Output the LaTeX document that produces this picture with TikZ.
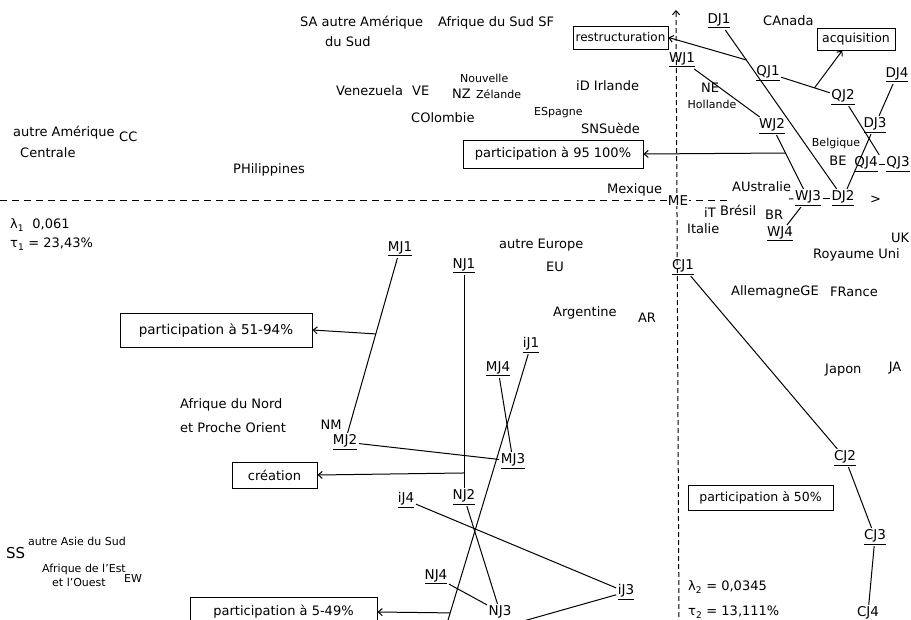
\documentclass[tikz,border=0pt]{standalone}
\usepackage{fontspec}
\setmainfont{DejaVu Sans}
\usetikzlibrary{arrows.meta,calc}
\begin{document}
\begin{tikzpicture}[x=1pt,y=-1pt,
  txt/.style={inner sep=0pt,anchor=west,font=\fontsize{13}{14}\selectfont},
  sm/.style={inner sep=0pt,anchor=west,font=\fontsize{11}{12}\selectfont},
  lab/.style={inner sep=1.5pt,font=\fontsize{13.5}{14}\selectfont},
  box/.style={draw,line width=1pt,inner sep=2pt,font=\fontsize{12.5}{14}\selectfont},
  link/.style={line width=1pt},
  arr/.style={line width=1pt,-{Straight Barb[length=4pt,width=7pt]}},
  axis/.style={line width=1pt,dash pattern=on 7pt off 5pt}
]
\clip (0,0) rectangle (911,619);
% axes
\coordinate (vb) at (679,625);
\coordinate (vt) at (676,10);
\coordinate (hl) at (0,200);
\coordinate (hr) at (727,200);
\draw[line width=1pt,dash pattern=on 5pt off 3pt,-{Straight Barb[length=4pt,width=7pt]}] (vb) -- (vt);
\draw[axis] (hl) -- (hr);
\node[lab,fill=white,inner sep=0.5pt] (ME) at (678,201) {ME};
\node[txt] (gt) at (870,200) {>};

% top texts
\node[txt] (sa) at (300,23) {SA autre Amérique};
\node[txt] (sa2) at (325,42) {du Sud};
\node[txt] (sf) at (438,23) {Afrique du Sud SF};
\node[txt] (ve) at (336,91) {Venezuela};
\node[txt] (ve2) at (412,91) {VE};
\node[sm] (nz1) at (460,78) {Nouvelle};
\node[txt] (nz) at (452,94) {NZ};
\node[sm] (nz2) at (476,94) {Zélande};
\node[txt] (id) at (576,86) {iD Irlande};
\node[txt] (co) at (411,118) {COlombie};
\node[sm] (es) at (534,113) {ESpagne};
\node[txt] (sn) at (581,128) {SNSuède};
\node[txt,anchor=center] (ne) at (710,88) {NE};
\node[sm,anchor=center] (ho) at (712,104) {Hollande};
\node[txt] (ca) at (763,21) {CAnada};
\node[sm,anchor=center] (be1) at (836,143) {Belgique};
\node[txt,anchor=center] (be2) at (838,161) {BE};
\node[txt] (cc1) at (13,133) {autre Amérique};
\node[txt] (cc) at (119,137) {CC};
\node[txt] (cc2) at (20,153) {Centrale};
\node[txt] (ph) at (233,170) {PHilippines};
\node[txt] (mx) at (607,190) {Mexique};
\node[txt] (au) at (732,187) {AUstralie};
\node[txt] (it) at (704,213) {iT};
\node[txt] (br) at (720,210) {Brésil};
\node[txt] (br2) at (765,215) {BR};
\node[txt] (ita) at (687,229) {Italie};
\node[txt] (uk) at (891,238) {UK};
\node[txt] (ru) at (813,255) {Royaume Uni};
\node[txt] (ge) at (731,292) {AllemagneGE};
\node[txt] (fr) at (830,292) {FRance};
\node[txt] (l1) at (10,225) {λ\textsubscript{1}\ \ 0,061};
\node[txt] (t1) at (10,244) {τ\textsubscript{1} = 23,43\%};
\node[txt] (eu1) at (499,245) {autre Europe};
\node[txt,anchor=center] (eu) at (555,267) {EU};
\node[txt] (ar) at (553,313) {Argentine};
\node[txt,anchor=center] (ar2) at (647,318) {AR};
\node[txt] (ja) at (825,370) {Japon};
\node[txt,anchor=center] (ja2) at (895,368) {JA};
\node[txt] (nm1) at (180,405) {Afrique du Nord};
\node[txt] (nm2) at (180,428) {et Proche Orient};
\node[txt,anchor=center] (nm) at (331,425) {NM};
\node[txt] (ss) at (6,553) {\fontsize{15}{16}\selectfont SS};
\node[sm] (ss2) at (28,541) {autre Asie du Sud};
\node[sm] (ew1) at (42,569) {Afrique de l'Est};
\node[sm] (ew2) at (52,582) {et l'Ouest};
\node[sm] (ew) at (124,578) {EW};
\node[txt] (l2) at (688,587) {λ\textsubscript{2} = 0,0345};
\node[txt] (t2) at (688,612) {τ\textsubscript{2} = 13,111\%};

% boxes
\node[box,minimum width=95pt,minimum height=23pt,font=\fontsize{12}{13}\selectfont] (restr) at (620.5,37.5) {restructuration};
\node[box,minimum width=78pt,minimum height=22pt] (acq) at (856,39) {acquisition};
\node[box,minimum width=180pt,minimum height=28pt,font=\fontsize{13}{14}\selectfont] (p95) at (553,154) {participation à 95 100\%};
\node[box,minimum width=192pt,minimum height=34pt,font=\fontsize{13.5}{14}\selectfont] (p51) at (216,330) {participation à 51-94\%};
\node[box,minimum width=85pt,minimum height=26pt,font=\fontsize{13}{14}\selectfont] (creat) at (274.5,475) {création};
\node[box,minimum width=145pt,minimum height=25pt] (p50) at (760.5,497.5) {participation à 50\%};
\node[box,minimum width=187pt,minimum height=30pt,font=\fontsize{13}{14}\selectfont] (p5) at (283.5,612) {participation à 5-49\%};

% labelled points
\node[lab] (DJ1) at (719,21) {\underline{DJ1}};
\node[lab] (QJ1) at (768,73) {\underline{QJ1}};
\node[lab] (QJ2) at (843,97) {\underline{QJ2}};
\node[lab] (DJ4) at (897,75) {\underline{DJ4}};
\node[lab] (DJ3) at (875,125) {\underline{DJ3}};
\node[lab] (QJ4) at (866,164) {\underline{QJ4}};
\node[lab] (QJ3) at (898,164) {\underline{QJ3}};
\node[lab] (WJ1) at (682,60) {\underline{WJ1}};
\node[lab] (WJ2) at (772,126) {\underline{WJ2}};
\node[lab] (WJ3) at (808,198) {\underline{WJ3}};
\node[lab] (DJ2) at (843,198) {\underline{DJ2}};
\node[lab] (WJ4) at (780,234) {\underline{WJ4}};
\node[lab] (CJ1) at (683,267) {\underline{CJ1}};
\node[lab] (CJ2) at (845,458) {\underline{CJ2}};
\node[lab] (CJ3) at (875,537) {\underline{CJ3}};
\node[lab] (CJ4) at (868,613) {CJ4};
\node[lab] (MJ1) at (400,249) {\underline{MJ1}};
\node[lab] (NJ1) at (464,266) {\underline{NJ1}};
\node[lab] (MJ2) at (345,442) {\underline{MJ2}};
\node[lab] (MJ3) at (513,461) {\underline{MJ3}};
\node[lab] (MJ4) at (498,369) {\underline{MJ4}};
\node[lab] (iJ1) at (531,345) {\underline{iJ1}};
\node[lab] (NJ2) at (464,497) {\underline{NJ2}};
\node[lab] (iJ4) at (406,500) {\underline{iJ4}};
\node[lab] (NJ4) at (436,577) {\underline{NJ4}};
\node[lab] (NJ3) at (500,612) {NJ3};
\node[lab] (iJ3) at (626,592) {\underline{iJ3}};
\coordinate (b1) at (445,630);
\coordinate (b2) at (520,622);
\coordinate (hw) at (789,199);

% connectors
\draw[link] (DJ1) -- (DJ2);
\draw[link] (QJ1) -- (QJ2);
\draw[link] (DJ4) -- (DJ3);
\draw[link] (QJ2) -- (QJ4.north east);
\draw[link] (DJ3) -- (DJ2);
\draw[link] (QJ4) -- (QJ3);
\draw[link] (WJ1) -- (WJ2);
\draw[link] (WJ2) -- (WJ3);
\draw[link] (WJ3) -- (DJ2);
\draw[link] (WJ4) -- (WJ3);
\draw[link] (hw) -- (WJ3);
\draw[link] (CJ1) -- (CJ2);
\draw[link] (CJ2) -- (CJ3);
\draw[link] (CJ3) -- (CJ4);
\draw[link] (MJ1) -- (MJ2);
\draw[link] (NJ1) -- (NJ2);
\draw[link] (MJ2) -- (MJ3);
\draw[link] (MJ4) -- (MJ3);
\draw[link] (iJ1) -- (b1);
\draw[link] (NJ2) -- (NJ3);
\draw[link] (NJ4) -- (NJ3);
\draw[link] (iJ4) -- (iJ3);
\draw[link] (iJ3) -- (b2);

% arrows to boxes
\coordinate (r1) at ($(DJ1)!0.22!(DJ2)$);
\draw[arr] (r1) -- (restr.east);
\coordinate (a1) at ($(QJ1)!0.62!(QJ2)$);
\draw[arr] (a1) -- (acq.220);
\coordinate (w1) at ($(WJ2)!0.375!(WJ3)$);
\draw[arr] (w1) -- (p95.east);
\coordinate (m1) at ($(MJ1)!0.44!(MJ2)$);
\draw[arr] (m1) -- (p51.east);
\coordinate (n1) at ($(NJ1)!0.896!(NJ2)$);
\draw[arr] (n1) -- (creat.east);
\coordinate (i1) at ($(iJ1)!0.94!(b1)$);
\draw[arr] (i1) -- (p5.east);
\end{tikzpicture}
\end{document}
